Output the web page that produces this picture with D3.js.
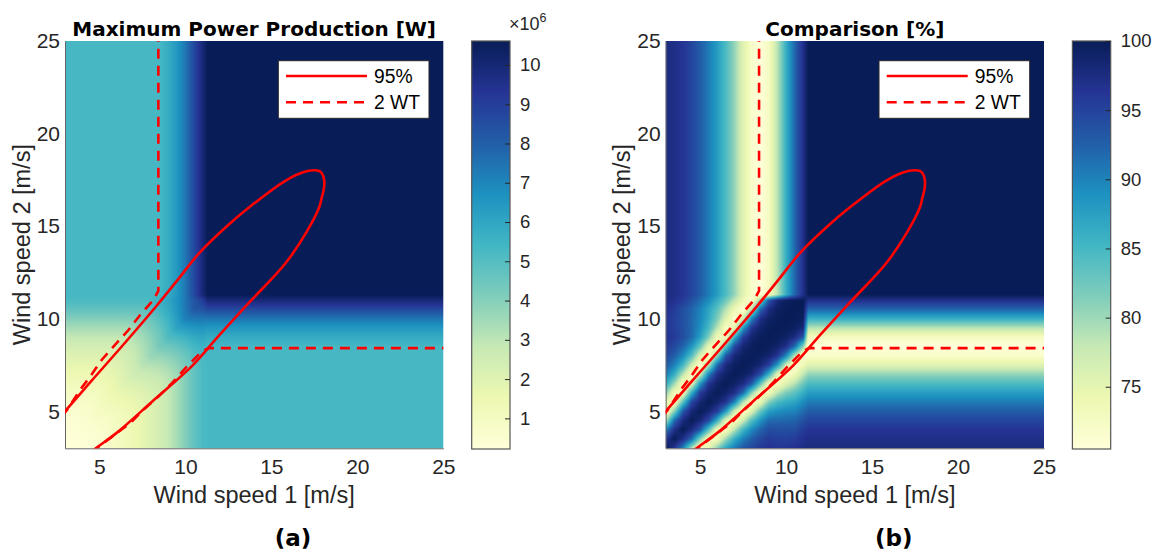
<!DOCTYPE html>
<html>
<head>
<meta charset="utf-8">
<script src="https://cdn.jsdelivr.net/npm/d3@7"></script>
<style>
  body { margin: 0; background: #fff; }
  svg { display: block; }
</style>
</head>
<body>
<svg id="fig" width="1156" height="551"></svg>
<script>
// Wind-speed knots (m/s) of the sampled grids; both axes share them.
const speedKnots = [3, 3.5, 4, 4.5, 5, 5.5, 6, 6.5, 7, 7.5, 8, 8.5, 9, 9.5, 10, 10.5, 11, 11.3, 12, 25];

// Maximum power production (x10^6 W) where both speeds are <= 11 m/s.
// Rows: wind speed 2 (knots 3..11), columns: wind speed 1 (knots 3..11).
const powerCoreMW = [
  [0.22,0.24,0.30,0.37,0.50,0.68,0.90,1.15,1.42,1.72,2.05,2.40,2.85,3.40,4.05,4.70,5.20],
  [0.24,0.31,0.35,0.42,0.54,0.69,0.90,1.15,1.42,1.72,2.05,2.40,2.85,3.40,4.05,4.70,5.20],
  [0.30,0.35,0.45,0.50,0.60,0.74,0.92,1.15,1.42,1.72,2.05,2.40,2.85,3.40,4.05,4.70,5.20],
  [0.37,0.42,0.50,0.63,0.71,0.83,0.99,1.19,1.42,1.72,2.05,2.40,2.85,3.40,4.05,4.70,5.20],
  [0.50,0.54,0.60,0.71,0.90,0.99,1.12,1.29,1.48,1.72,2.05,2.40,2.85,3.40,4.05,4.70,5.20],
  [0.68,0.69,0.74,0.83,0.99,1.22,1.32,1.46,1.62,1.82,2.06,2.40,2.85,3.40,4.05,4.70,5.20],
  [0.90,0.90,0.92,0.99,1.12,1.32,1.62,1.71,1.84,2.00,2.21,2.44,2.85,3.40,4.05,4.70,5.20],
  [1.15,1.15,1.15,1.19,1.29,1.46,1.71,2.07,2.15,2.27,2.43,2.62,2.92,3.40,4.05,4.70,5.20],
  [1.42,1.42,1.42,1.42,1.48,1.62,1.84,2.15,2.56,2.63,2.74,2.89,3.15,3.52,4.05,4.70,5.20],
  [1.72,1.72,1.72,1.72,1.72,1.82,2.00,2.27,2.63,3.10,3.16,3.25,3.47,3.79,4.23,4.70,5.20],
  [2.05,2.05,2.05,2.05,2.05,2.06,2.21,2.43,2.74,3.16,3.69,3.73,3.89,4.16,4.55,4.96,5.23],
  [2.40,2.40,2.40,2.40,2.40,2.40,2.44,2.62,2.89,3.25,3.73,4.32,4.42,4.63,4.97,5.33,5.55],
  [2.85,2.85,2.85,2.85,2.85,2.85,2.85,2.92,3.15,3.47,3.89,4.42,5.13,5.27,5.54,5.83,5.98],
  [3.40,3.40,3.40,3.40,3.40,3.40,3.40,3.40,3.52,3.79,4.16,4.63,5.27,6.12,6.30,6.50,6.58],
  [4.05,4.05,4.05,4.05,4.05,4.05,4.05,4.05,4.05,4.23,4.55,4.97,5.54,6.30,7.20,7.35,7.38],
  [4.70,4.70,4.70,4.70,4.70,4.70,4.70,4.70,4.70,4.70,4.96,5.33,5.83,6.50,7.35,8.20,8.30],
  [5.20,5.20,5.20,5.20,5.20,5.20,5.20,5.20,5.20,5.20,5.23,5.55,5.98,6.58,7.38,8.30,9.00]
];
// Power (x10^6 W) once the other speed is above rated (>= 11.3 m/s), per knot.
const powerEdgeMW = [5.3,5.3,5.3,5.3,5.3,5.3,5.3,5.3,5.3,5.3,5.3,5.3,5.78,6.44,7.39,8.61,9.95,10.6,10.6,10.6];

// Comparison (%) where both speeds are <= 11 m/s.
const comparisonCore = [
  [100,96.4,89.9,78.7,71.1,74.4,81.5,87.0,90.7,93.1,94.8,96.0,96.6,96.1,96.3,96.7,97.4],
  [96.4,100,97.1,91.8,81.0,72.1,73.0,80.1,86.2,90.2,92.7,94.5,95.7,95.3,95.2,95.6,96.7],
  [89.9,97.1,100,97.7,93.2,83.5,73.1,72.1,78.6,85.3,89.5,92.2,94.1,93.9,93.9,94.0,95.6],
  [78.7,91.8,97.7,100,98.2,94.4,86.0,74.7,71.4,77.1,84.2,88.7,91.7,91.9,92.0,92.2,93.8],
  [71.1,81.0,93.2,98.2,100,98.4,95.5,88.1,76.7,70.8,75.7,82.9,87.8,89.0,89.6,90.0,91.7],
  [74.4,72.1,83.5,94.4,98.4,100,98.7,96.4,89.9,78.7,71.1,74.4,81.5,84.8,86.3,87.0,89.2],
  [81.5,73.0,73.1,86.0,95.5,98.7,100,98.9,97.1,91.8,81.0,72.1,73.0,78.5,81.7,83.5,86.2],
  [87.0,80.1,72.1,74.7,88.1,96.4,98.9,100,99.1,97.7,93.2,83.5,73.1,71.9,75.8,78.6,82.5],
  [90.7,86.2,78.6,71.4,76.7,89.9,97.1,99.1,100,99.4,98.2,94.4,86.0,74.7,71.1,73.6,78.0],
  [93.1,90.2,85.3,77.1,70.8,78.7,91.8,97.7,99.4,100,99.5,98.4,95.5,88.1,76.7,70.7,73.7],
  [94.8,92.7,89.5,84.2,75.7,71.1,81.0,93.2,98.2,99.5,100,99.6,98.7,96.4,89.9,78.7,70.8],
  [96.0,94.5,92.2,88.7,82.9,74.4,72.1,83.5,94.4,98.4,99.6,100,99.7,98.9,97.1,91.8,81.0],
  [96.6,95.7,94.1,91.7,87.8,81.5,73.0,73.1,86.0,95.5,98.7,99.7,100,99.8,99.1,97.7,93.2],
  [96.1,95.3,93.9,91.9,89.0,84.8,78.5,71.9,74.7,88.1,96.4,98.9,99.8,100,99.9,99.4,98.2],
  [96.3,95.2,93.9,92.0,89.6,86.3,81.7,75.8,71.1,76.7,89.9,97.1,99.1,99.9,100,100,99.5],
  [96.7,95.6,94.0,92.2,90.0,87.0,83.5,78.6,73.6,70.7,78.7,91.8,97.7,99.4,100,100,100],
  [97.4,96.7,95.6,93.8,91.7,89.2,86.2,82.5,78.0,73.7,70.8,81.0,93.2,98.2,99.5,100,100]
];
// Comparison (%) once the other speed is above rated, per knot.
const comparisonEdge = [97.6,97.1,96.3,94.8,92.8,90.5,87.8,84.5,80.5,75.5,71.8,70.5,72.5,78.5,86,92,97,100,100,100];

// 95 % contour (wind speed 1, wind speed 2), lower-left end to lower-left end.
const contour95 = [
  [2.6,4.65],[3.09,5.1],[4.5,6.6],[6.49,8.7],[8.33,10.7],[9.6,12.15],[10.82,13.56],[12.3,14.9],
  [13.73,16.03],[15.81,17.45],[16.8,17.9],[17.47,18.02],[17.8,17.97],[18.0,17.75],[18.08,17.4],
  [18.05,17.0],[17.92,16.5],[17.79,16.03],[17.06,14.7],[15.81,12.98],[13.73,10.89],[11.86,8.99],
  [10.41,7.47],[8.12,5.57],[6.04,3.86],[4.75,2.97],[4.3,2.6]
];
// Boundary where operating 2 wind turbines pays off.
const twoWtUpper = [[8.43,25.5],[8.43,11.5],[8.14,11.02],[7.37,10.2],[6.69,9.39],[6.0,8.68],[5.13,7.77],[4.46,6.87],[3.87,6.15],[3.19,5.16],[2.8,4.7]];
const twoWtLower = [[25.5,8.41],[11.34,8.41],[10.95,8.22],[10.08,7.41],[9.3,6.6],[8.43,5.79],[7.55,5.07],[6.88,4.44],[6.0,3.81],[4.84,3.0],[4.6,2.75]];

const xTickValues = [5, 10, 15, 20, 25];
const yTickValues = [5, 10, 15, 20, 25];
const powerTicks = [1, 2, 3, 4, 5, 6, 7, 8, 9, 10];
const comparisonTicks = [75, 80, 85, 90, 95, 100];
const legendLabels = ["95%", "2 WT"];

const ylgnbu = ["#ffffd9","#edf8b1","#c7e9b4","#7fcdbb","#41b6c4","#1d91c0","#225ea8","#253494","#081d58"];
const SANS = "'Liberation Sans', Arial, Helvetica, sans-serif";
const BOLD = "'DejaVu Sans', Verdana, sans-serif";
const INK = "#262626";

// Full grid over all knots: core block below rated, edge profile elsewhere.
function buildGrid(core, edge) {
  const n = speedKnots.length, m = core.length;
  return d3.range(n).map(j => d3.range(n).map(i => {
    if (i < m && j < m) return core[j][i];
    return j >= m ? edge[i] : edge[j];
  }));
}

function locate(v) {
  const n = speedKnots.length;
  let i = d3.bisectRight(speedKnots, v) - 1;
  i = Math.max(0, Math.min(n - 2, i));
  const t = (v - speedKnots[i]) / (speedKnots[i + 1] - speedKnots[i]);
  return [i, Math.max(0, Math.min(1, t))];
}

function sample(grid, vx, vy) {
  const [i, tx] = locate(vx), [j, ty] = locate(vy);
  const a = grid[j][i], b = grid[j][i + 1], c = grid[j + 1][i], d = grid[j + 1][i + 1];
  return (a * (1 - tx) + b * tx) * (1 - ty) + (c * (1 - tx) + d * tx) * ty;
}

function lut(color) {
  const [d0, d1] = color.domain();
  return d3.range(1024).map(k => d3.rgb(color(d0 + (d1 - d0) * k / 1023)));
}

function fieldImage(grid, color, x, y, L, T, W, H) {
  const w = Math.round(W), h = Math.round(H);
  const cv = document.createElement("canvas");
  cv.width = w; cv.height = h;
  const ctx = cv.getContext("2d");
  const img = ctx.createImageData(w, h);
  const table = lut(color), [d0, d1] = color.domain();
  for (let py = 0; py < h; py++) {
    const vy = y.invert(T + (py + 0.5) * H / h);
    for (let px = 0; px < w; px++) {
      const vx = x.invert(L + (px + 0.5) * W / w);
      const v = sample(grid, vx, vy);
      const k = Math.max(0, Math.min(1023, Math.round((v - d0) / (d1 - d0) * 1023)));
      const c = table[k], o = (py * w + px) * 4;
      img.data[o] = c.r; img.data[o + 1] = c.g; img.data[o + 2] = c.b; img.data[o + 3] = 255;
    }
  }
  ctx.putImageData(img, 0, 0);
  return cv.toDataURL();
}

function barImage(color, cy, T, H) {
  const h = Math.round(H);
  const cv = document.createElement("canvas");
  cv.width = 1; cv.height = h;
  const ctx = cv.getContext("2d");
  for (let py = 0; py < h; py++) {
    ctx.fillStyle = color(cy.invert(T + (py + 0.5) * H / h));
    ctx.fillRect(0, py, 1, 1);
  }
  return cv.toDataURL();
}

const svg = d3.select("#fig");

const panels = [
  { dx: 0, core: powerCoreMW, edge: powerEdgeMW, domain: [0.22, 10.61], ticks: powerTicks,
    title: "Maximum Power Production [W]", tag: "(a)", exponent: true },
  { dx: 600.7, core: comparisonCore, edge: comparisonEdge, domain: [70.5, 100], ticks: comparisonTicks,
    title: "Comparison [%]", tag: "(b)", exponent: false }
];

panels.forEach((p, idx) => {
  const L = 65 + p.dx, R = 443.3 + p.dx, T = 41, B = 448.3;
  const x = d3.scaleLinear().domain([3, 25]).range([L, R]);
  const y = d3.scaleLinear().domain([3, 25]).range([B, T]);
  const color = d3.scaleSequential(d3.piecewise(d3.interpolateRgb, ylgnbu)).domain(p.domain).clamp(true);
  const g = svg.append("g");

  // heat map
  const grid = buildGrid(p.core, p.edge);
  g.append("image")
    .attr("x", L).attr("y", T).attr("width", R - L).attr("height", B - T)
    .attr("preserveAspectRatio", "none")
    .attr("href", fieldImage(grid, color, x, y, L, T, R - L, B - T));

  // axes
  const xAxis = g.append("g").attr("transform", `translate(0,${B})`)
    .call(d3.axisBottom(x).tickValues(xTickValues).tickSize(0).tickPadding(10.8));
  const yAxis = g.append("g").attr("transform", `translate(${L},0)`)
    .call(d3.axisLeft(y).tickValues(yTickValues).tickSize(0).tickPadding(5));
  [xAxis, yAxis].forEach(a => {
    a.select(".domain").attr("stroke", "#666").attr("stroke-width", 1);
    a.selectAll("text").attr("font-family", SANS).attr("font-size", 21).attr("fill", INK);
  });

  g.append("text").attr("x", (L + R) / 2).attr("y", 503)
    .attr("text-anchor", "middle").attr("font-family", SANS).attr("font-size", 23.5).attr("fill", INK)
    .text("Wind speed 1 [m/s]");
  g.append("text").attr("transform", `translate(${29.5 + p.dx},${(T + B) / 2}) rotate(-90)`)
    .attr("text-anchor", "middle").attr("font-family", SANS).attr("font-size", 23.5).attr("fill", INK)
    .text("Wind speed 2 [m/s]");
  g.append("text").attr("x", (L + R) / 2).attr("y", 35.5)
    .attr("text-anchor", "middle").attr("font-family", BOLD).attr("font-weight", "bold")
    .attr("font-size", 20).attr("fill", "#000").text(p.title);
  g.append("text").attr("x", 293 + p.dx).attr("y", 546)
    .attr("text-anchor", "middle").attr("font-family", BOLD).attr("font-weight", "bold")
    .attr("font-size", 23).attr("fill", "#000").text(p.tag);

  // red curves, clipped to the axes
  const clipId = "clip" + idx;
  g.append("clipPath").attr("id", clipId).append("rect")
    .attr("x", L).attr("y", T).attr("width", R - L).attr("height", B - T);
  const curves = g.append("g").attr("clip-path", `url(#${clipId})`);
  const smooth = d3.line().x(d => x(d[0])).y(d => y(d[1])).curve(d3.curveCatmullRom.alpha(0.5));
  const straight = d3.line().x(d => x(d[0])).y(d => y(d[1]));
  curves.append("path").attr("d", smooth(contour95))
    .attr("fill", "none").attr("stroke", "#ff0000").attr("stroke-width", 2.6).attr("stroke-linejoin", "round");
  [twoWtUpper, twoWtLower].forEach(seg => {
    curves.append("path").attr("d", straight(seg))
      .attr("fill", "none").attr("stroke", "#ff0000").attr("stroke-width", 2.6)
      .attr("stroke-dasharray", "10,7");
  });

  // legend
  const lg = g.append("g").attr("transform", `translate(${278.3 + p.dx},60.7)`);
  lg.append("rect").attr("width", 150.7).attr("height", 57.6)
    .attr("fill", "#fff").attr("stroke", INK).attr("stroke-width", 1);
  legendLabels.forEach((lab, k) => {
    const ly = k === 0 ? 15.3 : 41.6;
    lg.append("line").attr("x1", 7.7).attr("x2", 88.7).attr("y1", ly).attr("y2", ly)
      .attr("stroke", "#ff0000").attr("stroke-width", 2.6)
      .attr("stroke-dasharray", k === 0 ? null : "10,7");
    lg.append("text").attr("x", 95.7).attr("y", ly + 7)
      .attr("font-family", SANS).attr("font-size", 19.3).attr("fill", "#000").text(lab);
  });

  // colour bar
  const cbL = 471.7 + p.dx, cbR = 510 + p.dx, cbT = 41, cbB = 449;
  const cy = d3.scaleLinear().domain(p.domain).range([cbB, cbT]);
  g.append("image").attr("x", cbL).attr("y", cbT).attr("width", cbR - cbL).attr("height", cbB - cbT)
    .attr("preserveAspectRatio", "none").attr("href", barImage(color, cy, cbT, cbB - cbT));
  g.append("rect").attr("x", cbL).attr("y", cbT).attr("width", cbR - cbL).attr("height", cbB - cbT)
    .attr("fill", "none").attr("stroke", "#555").attr("stroke-width", 1.2);
  const cAxis = g.append("g").attr("transform", `translate(${cbR},0)`)
    .call(d3.axisRight(cy).tickValues(p.ticks).tickSizeInner(-5).tickSizeOuter(0).tickPadding(10));
  cAxis.select(".domain").remove();
  cAxis.selectAll("line").attr("stroke", INK);
  cAxis.selectAll("text").attr("font-family", SANS).attr("font-size", 18.5).attr("fill", INK);

  if (p.exponent) {
    const ex = g.append("text").attr("x", 509 + p.dx).attr("y", 30)
      .attr("font-family", SANS).attr("font-size", 18).attr("fill", INK);
    ex.append("tspan").text("\u00d710");
    ex.append("tspan").attr("font-size", 12.5).attr("dy", -8).text("6");
  }
});
</script>
</body>
</html>
